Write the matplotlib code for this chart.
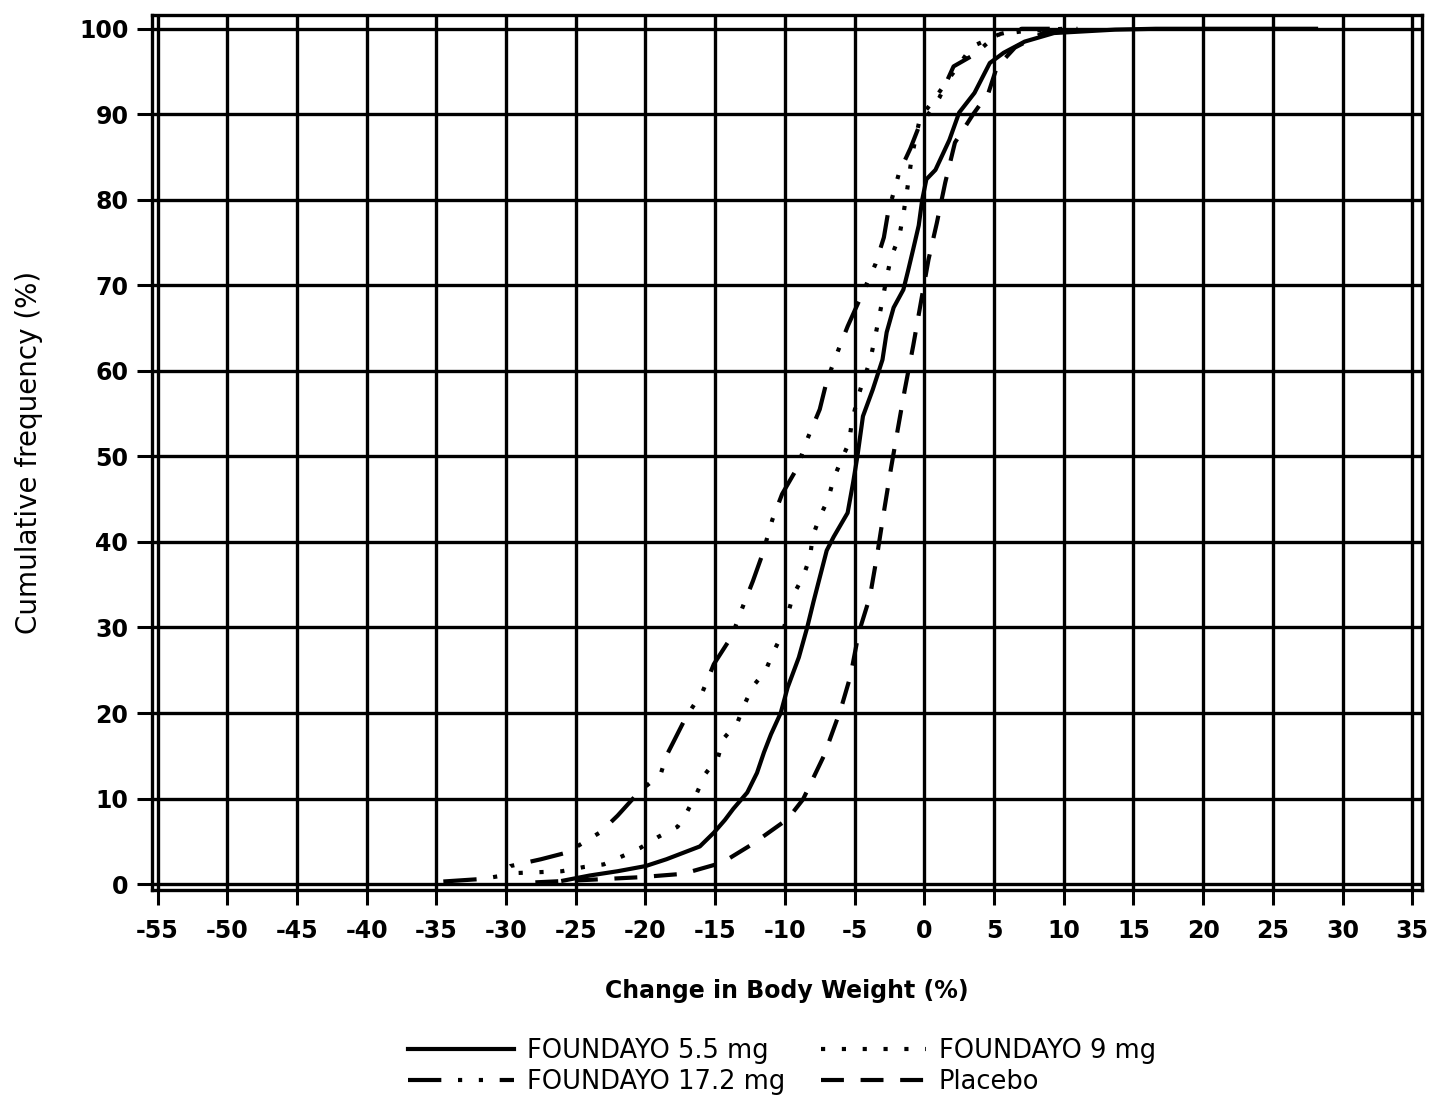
"""
Frecuencia acumulada del cambio de peso corporal (%) por grupo de tratamiento
"""

import matplotlib
matplotlib.use('Agg')
import matplotlib.pyplot as plt
import numpy as np

# ─────────────────────────────────────────────
# DATOS
# ─────────────────────────────────────────────
dose_55_x = [-25.9, -24.0, -22.0, -20.0, -18.5, -17.7, -16.1, -15.1, -14.3, -13.7,
             -12.7, -12.0, -11.5, -11.0, -10.3, -9.8, -9.0, -8.4, -7.95, -7.0,
             -6.5, -5.5, -5.1, -4.8, -4.4, -3.7, -3.0, -2.7, -2.2, -1.5,
             -1.15, -0.8, -0.4, -0.15, 0.15, 0.8, 1.8, 2.5, 3.6, 4.7,
             5.7, 7.2, 9.3, 13.7, 16.6, 28.1]
dose_55_y = [0.4, 1.0, 1.5, 2.1, 2.9, 3.4, 4.4, 6.0, 7.5, 8.8,
             10.7, 13.0, 15.4, 17.5, 20.0, 23.0, 26.5, 30.0, 33.0, 39.0,
             40.6, 43.4, 47.0, 50.0, 54.7, 57.8, 61.3, 64.5, 67.4, 69.5,
             71.8, 74.2, 77.0, 80.0, 82.4, 83.5, 87.0, 90.2, 92.5, 96.0,
             97.2, 98.5, 99.5, 99.9, 100.0, 100.0]

dose_9_x = [-29.1, -27.5, -26.0, -24.4, -23.0, -21.6, -20.4, -19.1, -17.7, -17.0,
            -16.3, -15.7, -14.8, -14.4, -13.4, -12.9, -12.3, -11.4, -10.8, -10.2,
            -9.8, -9.4, -8.7, -8.2, -8.0, -7.5, -6.9, -6.5, -6.0, -5.4,
            -5.2, -4.8, -4.4, -3.9, -3.6, -3.3, -3.0, -2.7, -2.4, -1.8,
            -1.5, -1.2, -0.9, -0.6, -0.3, 0.6, 1.6, 2.5, 3.4, 5.3,
            7.0, 10.0]
dose_9_y = [1.3, 1.4, 1.5, 2.0, 2.3, 3.3, 4.2, 5.5, 6.7, 8.5,
            10.7, 12.9, 14.8, 17.0, 18.9, 21.0, 23.1, 24.9, 27.2, 29.2,
            31.5, 33.8, 35.9, 38.2, 40.7, 42.9, 45.0, 47.4, 49.4, 51.6,
            54.0, 56.7, 58.8, 61.1, 63.4, 65.8, 68.3, 70.9, 73.2, 75.7,
            78.3, 81.5, 85.0, 87.4, 89.6, 91.5, 93.8, 95.8, 97.9, 99.3,
            99.7, 100.0]

dose_172_x = [-34.5, -31.7, -30.6, -29.7, -27.5, -25.6, -23.2, -22.0, -20.5, -18.9,
              -18.5, -18.0, -17.1, -15.9, -15.1, -13.8, -13.1, -12.3, -11.6, -10.9,
              -10.2, -9.1, -8.5, -7.5, -7.0, -6.2, -5.5, -4.4, -3.5, -2.9,
              -2.6, -1.8, -1.0, -0.4, 0.5, 1.1, 2.1, 3.6, 5.2, 7.0, 9.0]
dose_172_y = [0.3, 0.6, 0.9, 2.1, 2.9, 3.7, 6.1, 8.0, 10.7, 12.9,
              15.0, 16.6, 19.5, 22.5, 25.7, 29.0, 32.1, 35.4, 38.6, 42.6,
              45.6, 48.7, 51.6, 55.5, 58.8, 62.3, 65.2, 69.2, 72.5, 75.6,
              78.5, 83.2, 86.0, 88.5, 90.5, 92.0, 95.6, 97.0, 99.3, 100.0, 100.0]

placebo_x = [-27.9, -24.0, -20.4, -17.3, -14.5, -12.3, -9.8, -8.7, -7.2, -6.0,
             -5.3, -4.7, -3.9, -3.4, -2.9, -2.4, -1.9, -1.4, -0.8, -0.3,
             0.3, 0.9, 1.5, 2.2, 3.5, 4.6, 5.2, 6.5, 8.5, 11.0]
placebo_y = [0.2, 0.5, 0.8, 1.2, 2.5, 4.7, 7.6, 9.9, 15.0, 20.4,
             24.3, 29.4, 33.6, 38.3, 43.5, 48.5, 53.2, 57.8, 62.9, 67.5,
             73.0, 77.3, 82.0, 86.7, 90.0, 92.5, 95.5, 97.8, 99.5, 100.0]

x_ticks = list(range(-55, 40, 5))
y_ticks = list(range(0, 110, 10))

# ─────────────────────────────────────────────
# FIGURA
# ─────────────────────────────────────────────
fig = plt.figure(figsize=(14.31, 11.01), dpi=100)
ax = fig.add_axes([0.1062, 0.1916, 0.8875, 0.7947])

series = [
    ('FOUNDAYO 5.5 mg', dose_55_x, dose_55_y, '-'),
    ('FOUNDAYO 17.2 mg', dose_172_x, dose_172_y, (0, (8, 4, 1, 4, 1, 4))),
    ('FOUNDAYO 9 mg', dose_9_x, dose_9_y, (0, (1, 4))),
    ('Placebo', placebo_x, placebo_y, (0, (5.5, 4))),
]

handles = []
for label, xs, ys, ls in series:
    line, = ax.plot(xs, ys, color='black', lw=3, linestyle=ls, label=label,
                    zorder=3, solid_joinstyle='round')
    handles.append(line)

ax.set_xlim(-55.4, 35.7)
ax.set_ylim(-0.7, 101.6)
ax.set_xticks(x_ticks)
ax.set_yticks(y_ticks)
ax.set_xticklabels([str(t) for t in x_ticks], fontsize=17, fontweight='bold')
ax.set_yticklabels([str(t) for t in y_ticks], fontsize=17, fontweight='bold')
ax.tick_params(axis='both', length=11, width=2.2, color='black', direction='out')
ax.tick_params(axis='x', pad=10)
ax.tick_params(axis='y', pad=6)

ax.grid(True, color='black', lw=2.4, zorder=1)
ax.set_axisbelow(True)
for sp in ax.spines.values():
    sp.set_linewidth(2.4)

ax.set_xlabel('Change in Body Weight (%)', fontsize=17, fontweight='bold', labelpad=26)
ax.set_ylabel('Cumulative frequency (%)', fontsize=20, labelpad=26)

fig.legend(handles=handles, loc='center', bbox_to_anchor=(0.5466, 0.031),
           ncol=2, frameon=False, fontsize=18.5, handlelength=4.1,
           handletextpad=0.5, columnspacing=1.4, labelspacing=0.2,
           borderpad=0, borderaxespad=0)

plt.savefig('out.png', dpi=100)
